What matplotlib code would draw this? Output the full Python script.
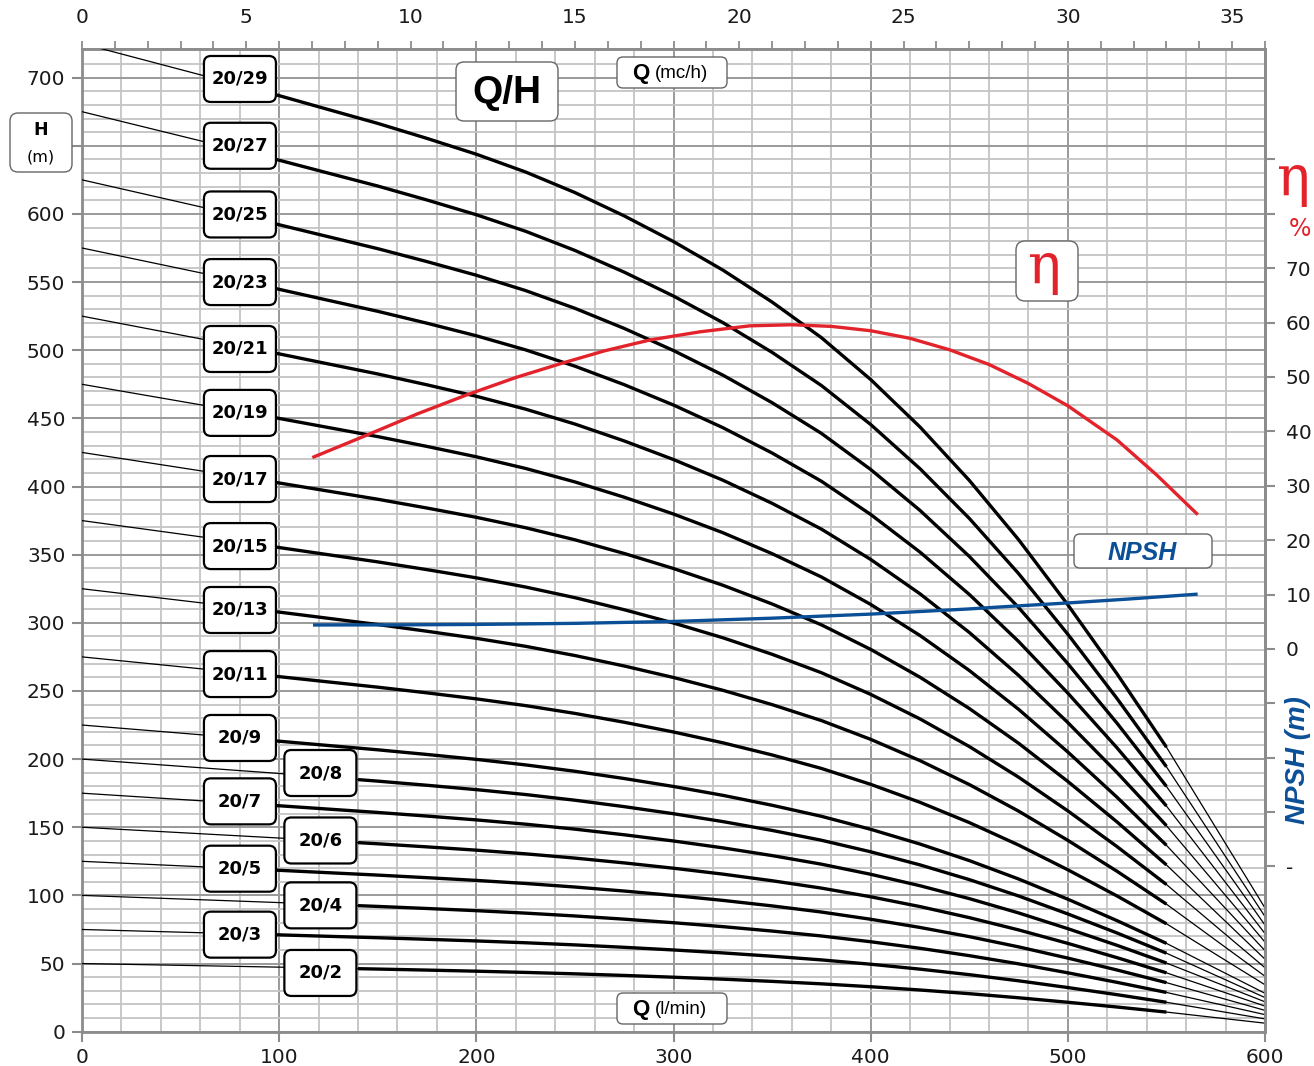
import numpy as np
import matplotlib
matplotlib.use("Agg")
import matplotlib.pyplot as plt
import matplotlib.transforms as mtransforms
from matplotlib.patches import FancyBboxPatch
from matplotlib.ticker import MultipleLocator, FuncFormatter

plt.rcParams['font.family'] = ['DejaVu Sans']

# hauteur par étage (m) en fonction du débit Q (l/min)
q_etage = np.array([0, 98.7, 125, 140, 150, 175, 200, 225, 250, 275, 300, 325, 350, 375,
                    400, 425, 450, 475, 500, 525, 550, 600])
h_etage = np.array([25.0, 23.70, 23.33, 23.12, 22.98, 22.60, 22.20, 21.75, 21.23, 20.64,
                    19.99, 19.27, 18.46, 17.56, 16.50, 15.30, 13.95, 12.45, 10.80, 9.05,
                    7.20, 3.13])

modeles = ["20/29", "20/27", "20/25", "20/23", "20/21", "20/19", "20/17", "20/15", "20/13",
           "20/11", "20/9", "20/8", "20/7", "20/6", "20/5", "20/4", "20/3", "20/2"]
etages = [29, 27, 25, 23, 21, 19, 17, 15, 13, 11, 9, 8, 7, 6, 5, 4, 3, 2]

# rendement (%)
q_eta = [117.6, 144.4, 170, 195.1, 220, 244.1, 265, 288, 313.4, 338.7, 360, 380, 400,
         420, 440, 460, 480, 500, 525, 545, 565.3]
eta = [35.3, 39.3, 43.2, 46.7, 49.9, 52.6, 54.8, 56.8, 58.3, 59.4, 59.6, 59.3, 58.5,
       57.1, 55.0, 52.3, 48.8, 44.7, 38.4, 32.0, 24.9]

# NPSH (m)
q_npsh = [118, 160, 200, 250, 300, 350, 400, 450, 465, 500, 530, 565]
npsh = [4.4, 4.42, 4.5, 4.7, 5.05, 5.65, 6.4, 7.35, 7.7, 8.45, 9.15, 10.05]

# position des étiquettes (Q, H)
pos_etiquettes = [(80.1, 699), (80.1, 650), (80.1, 599.6), (80.1, 550), (80.1, 500.9),
                  (80.1, 454), (80.1, 405.5), (80.1, 356.3), (80.1, 309.4), (80.1, 262.4),
                  (80.1, 215.5), (120.9, 189.8), (80.1, 169), (120.9, 140.3), (80.1, 119.6),
                  (120.9, 92.7), (80.1, 71.2), (120.9, 43.1)]

W, H = 1314, 1066
ROUGE = '#e3232b'
BLEU = '#0b4f97'
GRIS = '#8c8c8c'

fig = plt.figure(figsize=(W / 100, H / 100), dpi=100)
ax = fig.add_axes([82 / W, (H - 1031.7) / H, (1265 - 82) / W, (1031.7 - 49) / H])

# grille
ax.xaxis.set_major_locator(MultipleLocator(100))
ax.xaxis.set_minor_locator(MultipleLocator(20))
ax.yaxis.set_major_locator(MultipleLocator(50))
ax.yaxis.set_minor_locator(MultipleLocator(10))
# 650 est caché par le cadre "H (m)"
ax.yaxis.set_major_formatter(FuncFormatter(lambda v, p: '' if round(v) == 650 else f"{v:.0f}"))
ax.grid(which='minor', color='#c4c4c4', lw=1.3)
ax.grid(which='major', color='#9a9a9a', lw=1.4)
ax.set_axisbelow(True)
ax.tick_params(which='minor', length=0)
ax.tick_params(which='major', length=7, width=1.5, color=GRIS, labelsize=14.5,
               labelcolor='#1a1a1a', pad=5)
for s in ax.spines.values():
    s.set_color(GRIS)
    s.set_linewidth(2)

# courbes Q/H
for nom, n, (lq, lh) in zip(modeles, etages, pos_etiquettes):
    h = n * h_etage
    ax.plot(q_etage, h, color='black', lw=0.9, zorder=3)
    q_debut = 98 if lq < 100 else 139
    m = (q_etage >= q_debut) & (q_etage <= 550)
    ax.plot(q_etage[m], h[m], color='black', lw=2.4, zorder=4, solid_capstyle='butt',
            solid_joinstyle='round')
    trans = mtransforms.ScaledTranslation(lq, lh, ax.transData)
    boite = FancyBboxPatch((-36, -23), 72, 46, boxstyle="round,pad=0,rounding_size=7",
                           transform=trans, fc='white', ec='black', lw=1.6, zorder=6)
    ax.add_patch(boite)
    ax.text(lq, lh, nom, ha='center', va='center', fontsize=13, fontweight='bold', zorder=7)
ax.set_xlim(0, 600)
ax.set_ylim(0, 721)

# axe haut en m3/h
secax = ax.secondary_xaxis('top', functions=(lambda q: q * 0.06, lambda m: m / 0.06))
secax.set_xticks(list(range(0, 36, 5)))
secax.set_xticks(list(range(0, 37)), minor=True)
secax.tick_params(which='both', length=6, width=1.3, color=GRIS)
secax.tick_params(which='major', labelsize=14.5, labelcolor='#1a1a1a', pad=10)
secax.spines['top'].set_color(GRIS)
secax.spines['top'].set_linewidth(2)

# axe droit rendement / NPSH
ax2 = ax.twinx()
ax2.set_ylim(-70.38, 110.3)
graduations = np.arange(-40, 100, 10)
ax2.set_yticks(graduations)
ax2.set_yticklabels([str(v) if 0 <= v <= 70 else ('-' if v == -40 else '') for v in graduations])
ax2.tick_params(length=7, width=1.5, color=GRIS, labelsize=14.5, labelcolor='#1a1a1a', pad=8)
for cote in ['left', 'top', 'bottom']:
    ax2.spines[cote].set_visible(False)
ax2.spines['right'].set_color(GRIS)
ax2.spines['right'].set_linewidth(2)
ax2.plot(q_eta, eta, color=ROUGE, lw=2.4, zorder=5, solid_joinstyle='round')
ax2.plot(q_npsh, npsh, color=BLEU, lw=2.4, zorder=5, solid_joinstyle='round')


def cadre(x0, y0, x1, y1, r=8, ec='#666666', lw=1.0):
    b = FancyBboxPatch((x0, H - y1), x1 - x0, y1 - y0, boxstyle=f"round,pad=0,rounding_size={r}",
                       transform=mtransforms.IdentityTransform(), fc='white', ec=ec, lw=lw, zorder=10)
    fig.add_artist(b)


def texte(x, y, s, **kw):
    fig.text(x / W, 1 - y / H, s, zorder=11, **kw)


# titres
cadre(10, 113, 72, 172)
texte(41, 130, "H", ha='center', va='center', fontsize=12.5, fontweight='bold')
texte(41, 157, "(m)", ha='center', va='center', fontsize=11.5)

cadre(456, 62, 558, 121)
texte(507, 93, "Q/H", ha='center', va='center', fontsize=28, fontweight='bold',
      family='Liberation Sans')

cadre(617, 57, 727, 88, r=6)
texte(632, 73, "Q", ha='left', va='center', fontsize=16, fontweight='bold', family='Liberation Sans')
texte(655, 74, "(mc/h)", ha='left', va='center', fontsize=13.5, family='Liberation Sans')

cadre(617, 993, 727, 1024, r=6)
texte(632, 1009, "Q", ha='left', va='center', fontsize=16, fontweight='bold', family='Liberation Sans')
texte(655, 1010, "(l/min)", ha='left', va='center', fontsize=13.5, family='Liberation Sans')

cadre(1016, 241, 1078, 301, r=9)
texte(1045, 268, "η", ha='center', va='center', fontsize=40, color=ROUGE, family='DejaVu Serif')

texte(1294, 180, "η", ha='center', va='center', fontsize=40, color=ROUGE, family='DejaVu Serif')
texte(1300, 229, "%", ha='center', va='center', fontsize=17, color=ROUGE)

cadre(1074, 534, 1212, 568, r=6)
texte(1142, 553, "NPSH", ha='center', va='center', fontsize=18, fontweight='bold', style='italic',
      color=BLEU, family='Liberation Sans')

texte(1298, 760, "NPSH (m)", ha='center', va='center', rotation=90, fontsize=20, fontweight='bold',
      style='italic', color=BLEU, family='Liberation Sans')

fig.savefig("out.png", dpi=100)
